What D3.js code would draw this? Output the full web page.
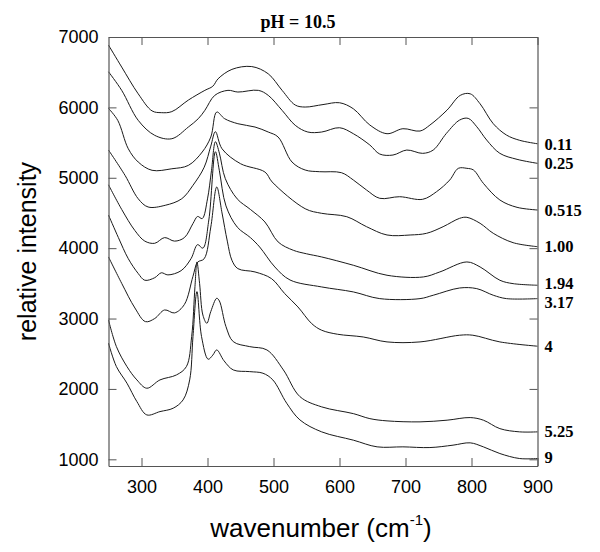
<!DOCTYPE html>
<html><head><meta charset="utf-8">
<script src="https://cdn.jsdelivr.net/npm/d3@7"></script>
<style>
body{margin:0;background:#fff;}
svg{display:block;}
</style></head>
<body><svg id="c" width="600" height="552"></svg>
<script>
// ---- data (wavenumber cm^-1, relative intensity) ----
const title = "pH = 10.5";
const seriesLabels = ["0.11","0.25","0.515","1.00","1.94","3.17","4","5.25","9"];
const xTickValues = [300,400,500,600,700,800,900];
const yTickValues = [1000,2000,3000,4000,5000,6000,7000];

const s0_11 = [[250,6885],[270,6573],[295,6193],[316,5950],[330,5925],[346,5940],[371,6104],[396,6242],[408,6300],[416,6406],[437,6540],[467,6580],[492,6477],[513,6242],[533,6033],[548,6005],[575,6040],[600,6066],[621,5980],[646,5749],[672,5626],[696,5697],[722,5664],[737,5749],[763,5962],[783,6171],[798,6193],[813,6051],[833,5768],[853,5607],[873,5532],[900,5483]];
const s0_25 = [[250,6506],[270,6242],[295,5816],[320,5603],[346,5555],[371,5721],[386,5839],[396,5958],[411,6171],[431,6242],[446,6218],[477,6242],[492,6171],[513,5958],[533,5745],[552,5650],[573,5650],[600,5711],[621,5626],[646,5465],[661,5337],[681,5323],[702,5394],[726,5347],[742,5394],[762,5631],[782,5820],[795,5844],[808,5725],[823,5536],[843,5347],[869,5262],[900,5205]];
const s0_515 = [[250,5986],[264,5816],[280,5412],[295,5224],[316,5106],[346,5128],[371,5176],[392,5366],[405,5579],[414,5934],[426,5839],[446,5768],[472,5721],[492,5650],[507,5579],[528,5224],[548,5110],[570,5086],[603,5072],[621,4968],[641,4826],[661,4708],[691,4731],[726,4694],[747,4802],[767,4968],[780,5134],[793,5134],[803,5110],[818,4921],[843,4684],[869,4580],[900,4542]];
const s1_00 = [[250,5394],[275,5035],[295,4702],[310,4585],[336,4609],[361,4702],[378,4893],[395,5150],[405,5450],[412,5654],[422,5412],[450,5200],[487,5082],[498,4940],[548,4560],[573,4495],[611,4447],[641,4305],[672,4187],[707,4187],[732,4211],[757,4305],[782,4424],[793,4438],[813,4353],[833,4211],[863,4078],[900,4021]];
const s1_94 = [[250,4900],[270,4550],[290,4250],[305,4100],[320,4069],[335,4150],[350,4100],[365,4150],[378,4350],[385,4450],[392,4420],[400,4700],[406,5100],[412,5512],[418,5350],[427,4987],[445,4700],[465,4550],[487,4372],[507,4088],[530,3970],[550,3920],[573,3875],[621,3757],[672,3615],[727,3591],[752,3662],[793,3804],[813,3733],[843,3544],[863,3496],[900,3473]];
const s3_17 = [[250,4470],[265,4150],[280,3850],[295,3640],[305,3544],[320,3580],[330,3650],[340,3620],[360,3680],[375,3850],[385,4050],[393,4000],[402,4400],[412,5370],[418,5100],[428,4600],[445,4300],[465,4150],[479,4017],[502,3733],[525,3548],[573,3449],[621,3378],[661,3283],[722,3283],[742,3331],[782,3434],[808,3425],[833,3331],[853,3283],[900,3283]];
const s4 = [[250,3875],[270,3500],[290,3150],[306,2956],[320,3000],[335,3122],[350,3080],[365,3200],[378,3600],[385,3800],[395,3850],[405,4300],[414,4869],[422,4500],[430,4100],[437,3828],[446,3709],[472,3662],[497,3567],[517,3354],[537,3165],[558,2927],[573,2834],[597,2777],[636,2738],[672,2668],[722,2668],[782,2763],[802,2763],[843,2668],[900,2607]];
const s5_25 = [[250,2980],[262,2601],[278,2317],[293,2128],[308,2010],[328,2128],[353,2199],[368,2317],[376,2743],[381,3453],[384,3804],[388,3500],[393,3050],[399,2933],[405,3100],[414,3288],[418,3250],[428,2885],[439,2672],[464,2601],[490,2554],[515,2270],[540,1891],[573,1745],[621,1649],[646,1578],[672,1546],[722,1532],[763,1556],[798,1593],[818,1556],[843,1436],[873,1390],[900,1390]];
const s9 = [[250,2650],[262,2317],[278,2081],[293,1820],[308,1631],[328,1678],[348,1726],[363,1844],[373,2128],[378,2743],[384,3382],[391,2743],[401,2422],[408,2480],[414,2554],[425,2400],[439,2270],[464,2246],[484,2223],[499,2128],[520,1797],[540,1560],[573,1390],[621,1272],[657,1177],[696,1177],[737,1167],[772,1201],[798,1234],[818,1177],[843,1082],[873,1011],[900,1011]];

const allSeries = [s0_11,s0_25,s0_515,s1_00,s1_94,s3_17,s4,s5_25,s9];

// ---- layout ----
const svg = d3.select("#c");
const L = 108.5, R = 537.5, T = 37, B = 466;
const x = d3.scaleLinear().domain([250,900]).range([L,R]);
const y = d3.scaleLinear().domain([905,7000]).range([B,T]);
const tickFont = "'Liberation Sans', Arial, Helvetica, sans-serif";
const serif = "'Liberation Serif', 'Times New Roman', serif";

// curves
const line = d3.line().x(d=>x(d[0])).y(d=>y(d[1])).curve(d3.curveCatmullRom.alpha(0.5));
svg.append("g").selectAll("path").data(allSeries).join("path")
  .attr("d", line).attr("fill","none").attr("stroke","#1a1a1a").attr("stroke-width",1);

// axes (ticks inside)
const axColor = "#555";
function styleAxis(g){
  g.select(".domain").attr("stroke",axColor);
  g.selectAll(".tick line").attr("stroke",axColor);
  g.selectAll(".tick text").attr("fill","#000").attr("font-family",tickFont).attr("font-size",18);
}
svg.append("g").attr("transform",`translate(0,${B})`)
  .call(d3.axisBottom(x).tickValues(xTickValues).tickSizeInner(-8).tickSizeOuter(0).tickPadding(14).tickFormat(d3.format("d")))
  .call(styleAxis);
svg.append("g").attr("transform",`translate(0,${T})`)
  .call(d3.axisTop(x).tickValues(xTickValues).tickSizeInner(-8).tickSizeOuter(0).tickFormat(""))
  .call(styleAxis);
svg.append("g").attr("transform",`translate(${L},0)`)
  .call(d3.axisLeft(y).tickValues(yTickValues).tickSizeInner(-8).tickSizeOuter(0).tickPadding(10).tickFormat(d3.format("d")))
  .call(styleAxis);
svg.append("g").attr("transform",`translate(${R},0)`)
  .call(d3.axisRight(y).tickValues(yTickValues).tickSizeInner(-8).tickSizeOuter(0).tickFormat(""))
  .call(styleAxis);
svg.selectAll(".domain").attr("stroke-width",1.2);

// series labels at right end (small vertical nudges keep the close pair apart)
const labelNudge = [6,6,6,5,4,9,6,5,4];
svg.append("g").selectAll("text").data(allSeries).join("text")
  .attr("x", R+7)
  .attr("y", (d,i)=>y(d[d.length-1][1])+labelNudge[i])
  .attr("font-family",serif).attr("font-weight","bold").attr("font-size",16.5)
  .text((d,i)=>seriesLabels[i]);

// title
svg.append("text").attr("x",(L+R)/2 - 25).attr("y",28).attr("text-anchor","middle")
  .attr("font-family",serif).attr("font-weight","bold").attr("font-size",18).text(title);

// axis titles
svg.append("text").attr("transform",`translate(36,${(T+B)/2}) rotate(-90)`)
  .attr("text-anchor","middle").attr("font-family",tickFont).attr("font-size",25)
  .text("relative intensity");
const xt = svg.append("text").attr("x",(L+R)/2 - 2).attr("y",537).attr("text-anchor","middle")
  .attr("font-family",tickFont).attr("font-size",26);
xt.append("tspan").text("wavenumber (cm");
xt.append("tspan").attr("font-size",15).attr("dy",-12).text("-1");
xt.append("tspan").attr("dy",12).text(")");
</script></body></html>
